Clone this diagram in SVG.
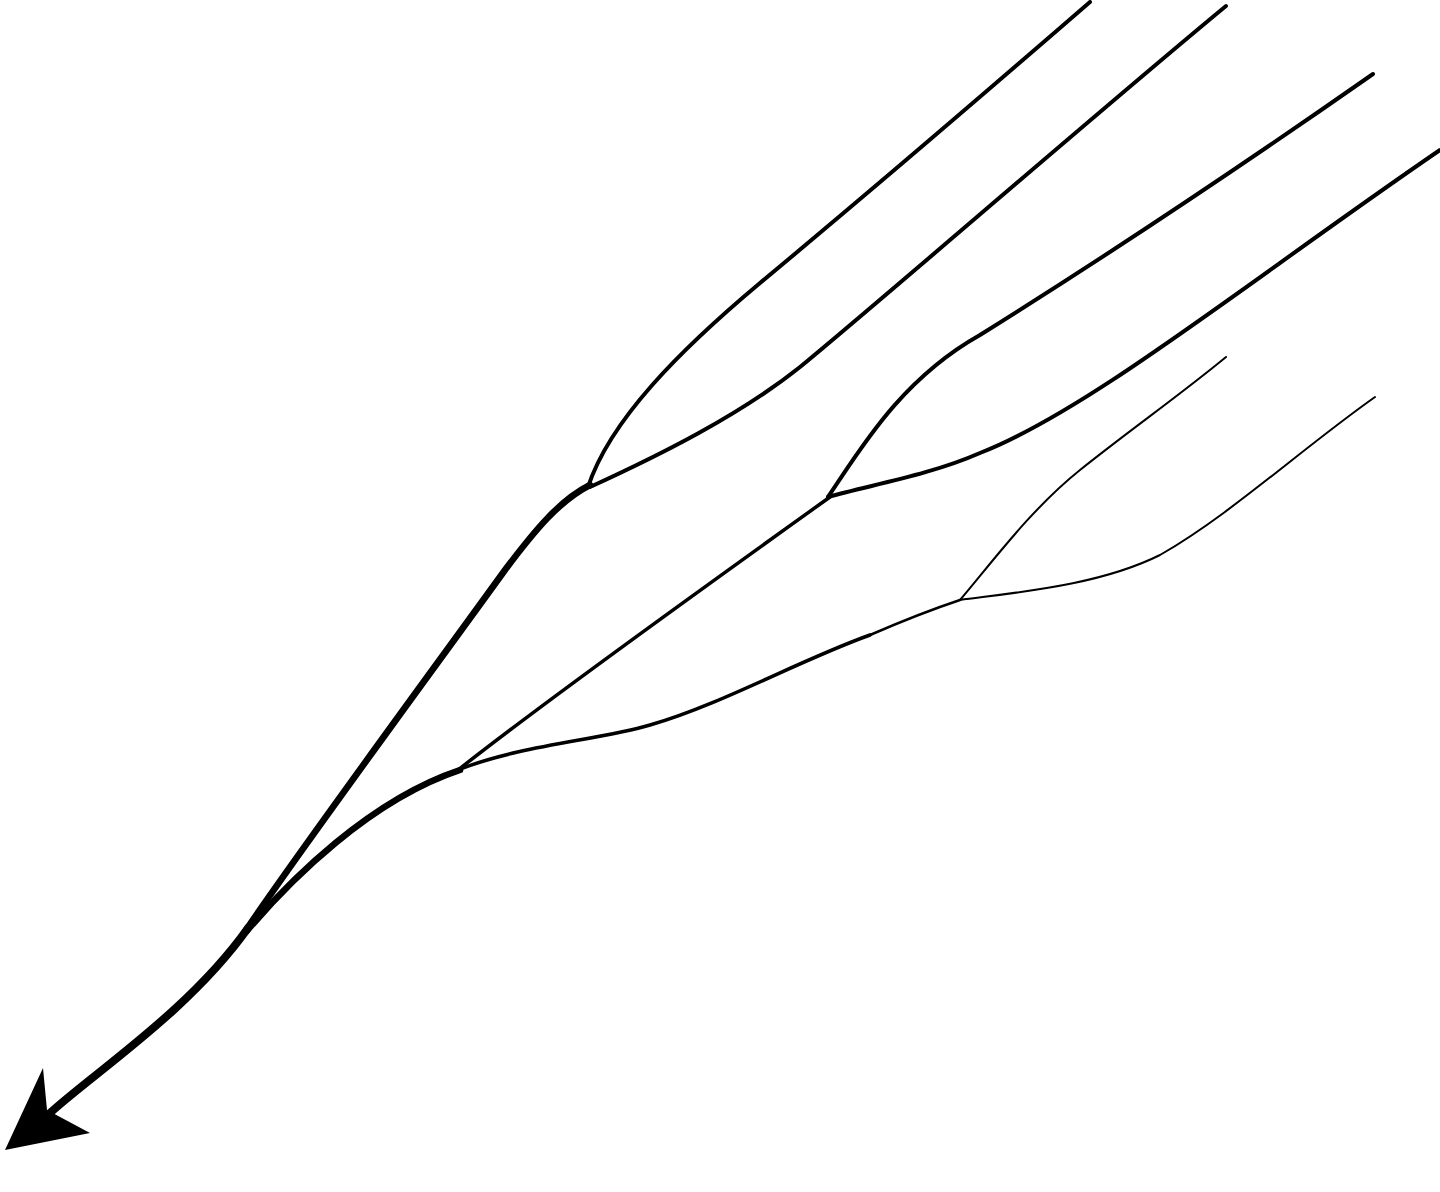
<svg xmlns="http://www.w3.org/2000/svg" width="1440" height="1192" viewBox="0 0 1440 1192">
<style>
.s{fill:none;stroke:#000;stroke-linecap:round;stroke-linejoin:round}
.w7{stroke-width:8}.w6{stroke-width:6.5}.w35{stroke-width:4}.w3{stroke-width:3.5}.w2{stroke-width:2.5}.w15{stroke-width:2}
</style>
<rect width="1440" height="1192" fill="#fff"/>
<g id="connectors">
<path class="s w7" d="M50,1113 C95,1072 190,1010 248,928"/>
<path class="s w6" d="M246,930 C300,850 440,660 505,570 C535,530 560,500 590,485"/>
<path class="s w6" d="M246,932 C290,880 370,800 460,770"/>
<path class="s w35" d="M588,487 C610,420 680,350 760,283 C860,200 1000,80 1090,2"/>
<path class="s w35" d="M590,487 C660,455 740,415 800,367 C870,310 1100,110 1226,6"/>
<path class="s w3" d="M458,770 C540,705 700,590 830,497"/>
<path class="s w35" d="M828,497 C860,450 900,380 980,335 C1100,260 1250,160 1373,74"/>
<path class="s w35" d="M828,497 C870,485 930,475 980,453 C1090,410 1250,280 1440,150"/>
<path class="s w3" d="M458,770 C520,745 600,740 650,725 C720,705 800,660 870,635"/>
<path class="s w2" d="M870,635 C900,622 930,610 960,600"/>
<path class="s w15" d="M960,600 C990,565 1030,510 1080,470 C1130,430 1180,395 1226,357"/>
<path class="s w15" d="M960,600 C1020,592 1100,585 1160,555 C1230,515 1300,450 1375,397"/>
</g>
<g id="arrowhead">
<polygon points="5,1150 43,1068 47,1110 90,1133" fill="#000"/>
</g>
</svg>
